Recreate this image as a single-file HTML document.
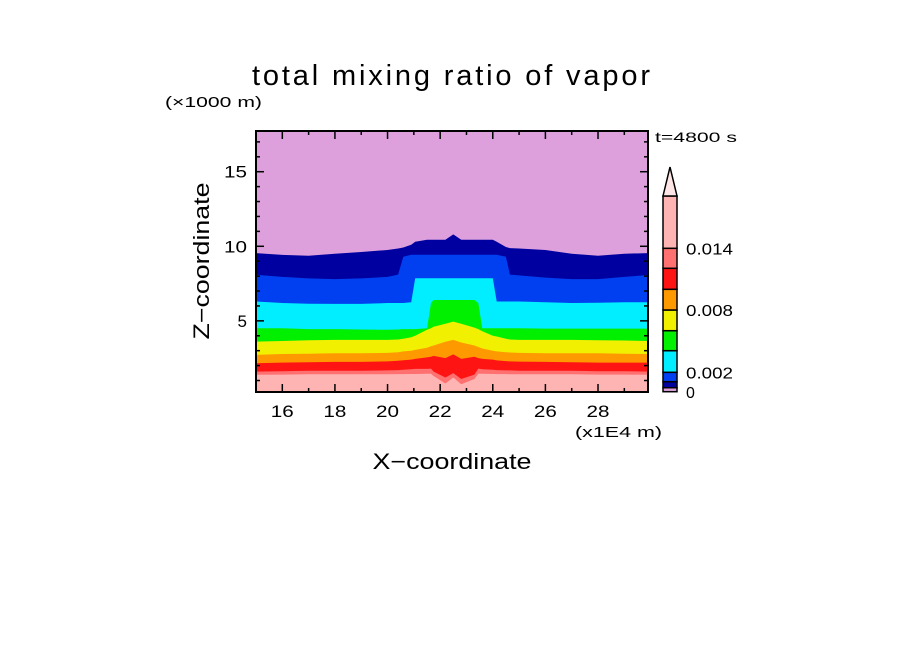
<!DOCTYPE html>
<html><head><meta charset="utf-8"><style>
html,body{margin:0;padding:0;background:#fff;}
svg{display:block;font-family:"Liberation Sans","DejaVu Sans",sans-serif;}
</style></head><body>
<svg id="chart" width="904" height="654" viewBox="0 0 904 654">
<text x="451" y="85" font-size="29" text-anchor="middle" textLength="398">total mixing ratio of vapor</text>
<text x="165" y="107" font-size="15" textLength="97" lengthAdjust="spacingAndGlyphs">(×1000 m)</text>
<text x="655" y="142" font-size="14" textLength="82" lengthAdjust="spacingAndGlyphs">t=4800 s</text>
<text x="0" y="0" font-size="22" text-anchor="middle" textLength="157" lengthAdjust="spacingAndGlyphs" transform="translate(209,261) rotate(-90)">Z−coordinate</text>
<text x="452" y="469" font-size="22" text-anchor="middle" textLength="159" lengthAdjust="spacingAndGlyphs">X−coordinate</text>
<text x="575" y="437" font-size="15" textLength="87" lengthAdjust="spacingAndGlyphs">(x1E4 m)</text>
<g id="plot"></g>
<g id="cbar"></g>
</svg>
<script>
const xs=[15,16,17,18,19,20,20.4,20.6,20.9,21.05,21.5,21.65,21.75,22.2,22.5,22.8,23.3,23.45,23.6,24.0,24.15,24.5,24.65,25,26,27,28,29,30];
const b1=[9.54,9.42,9.36,9.5,9.62,9.75,9.85,9.92,10.1,10.3,10.44,10.44,10.44,10.44,10.8,10.44,10.44,10.44,10.44,10.44,10.3,9.95,9.88,9.85,9.75,9.5,9.36,9.5,9.54];
const b2=[8.09,7.95,7.85,7.8,7.85,7.95,8.1,9.3,9.43,9.43,9.43,9.43,9.43,9.43,9.43,9.43,9.43,9.43,9.43,9.43,9.43,9.3,8.1,8.05,7.9,7.8,7.8,7.95,8.09];
const b3=[6.30,6.2,6.15,6.14,6.14,6.2,6.2,6.2,6.25,7.86,7.86,7.86,7.86,7.86,7.86,7.86,7.86,7.86,7.86,7.86,6.3,6.3,6.3,6.3,6.25,6.2,6.22,6.25,6.25];
const b4=[4.51,4.5,4.45,4.45,4.42,4.4,4.42,4.45,4.45,4.45,4.5,6.2,6.4,6.4,6.4,6.4,6.4,6.2,4.5,4.5,4.5,4.5,4.5,4.5,4.48,4.48,4.48,4.48,4.48];
const b5=[3.61,3.65,3.7,3.72,3.72,3.72,3.75,3.8,3.9,4.0,4.4,4.5,4.6,4.8,4.95,4.8,4.55,4.45,4.3,4.0,3.95,3.8,3.75,3.72,3.72,3.72,3.7,3.68,3.65];
const b6=[2.72,2.78,2.8,2.83,2.83,2.85,2.9,2.95,3.0,3.05,3.2,3.3,3.35,3.6,3.72,3.55,3.35,3.25,3.15,3.0,2.95,2.9,2.88,2.85,2.83,2.83,2.83,2.8,2.78];
const b7=[2.16,2.2,2.22,2.25,2.25,2.28,2.32,2.36,2.4,2.45,2.55,2.6,2.65,2.5,2.75,2.45,2.6,2.5,2.45,2.4,2.35,2.3,2.28,2.27,2.25,2.22,2.2,2.2,2.2];
const b8=[1.60,1.62,1.65,1.65,1.65,1.68,1.7,1.72,1.75,1.78,1.78,1.8,1.6,1.2,1.5,1.1,1.4,1.8,1.75,1.72,1.7,1.68,1.68,1.65,1.65,1.65,1.62,1.62,1.6];
const b9=[1.38,1.4,1.42,1.42,1.42,1.42,1.43,1.43,1.44,1.44,1.45,1.45,1.3,0.8,1.2,0.75,1.1,1.45,1.45,1.44,1.43,1.43,1.42,1.42,1.42,1.42,1.4,1.4,1.38];
const xTicks=[16,18,20,22,24,26,28];
const yTicks=[5,10,15];
const cbLabels=["0.002","0.008","0.014"];

const NS="http://www.w3.org/2000/svg";
const X0=256,X1=648,Y0=131,Y1=392;
const xMin=15,xMax=29.9,yMin=0.23,yMax=17.73;
const sx=v=>X0+(v-xMin)/(xMax-xMin)*(X1-X0);
const sy=v=>Y1-(v-yMin)/(yMax-yMin)*(Y1-Y0);
const plot=document.getElementById('plot');
function mk(tag,attrs,parent){const e=document.createElementNS(NS,tag);for(const k in attrs)e.setAttribute(k,attrs[k]);parent.appendChild(e);return e;}
const cp=mk('clipPath',{id:'clip'},plot);mk('rect',{x:X0,y:Y0,width:X1-X0,height:Y1-Y0},cp);
const g=mk('g',{'clip-path':'url(#clip)'},plot);
const bg=mk('rect',{x:X0,y:Y0,width:X1-X0,height:Y1-Y0,fill:'#dda0dd'},g);


const bounds=[b1,b2,b3,b4,b5,b6,b7,b8,b9];
const cols=['#0000a0','#0040f0','#00eeff','#00f000','#f0f000','#ff9900','#ff1414','#ff7070','#ffb4b4'];
bounds.forEach((b,k)=>{
 let d='M'+sx(xs[0])+','+(Y1+5);
 xs.forEach((x,i)=>{d+=' L'+sx(x).toFixed(1)+','+sy(b[i]).toFixed(1);});
 d+=' L'+sx(xs[xs.length-1])+','+(Y1+5)+' Z';
 const p=mk('path',{d:d,fill:cols[k]},g);
 
 
});
const fr=mk('rect',{x:X0,y:Y0,width:X1-X0,height:Y1-Y0,fill:'none',stroke:'#000','stroke-width':2},plot);


for(let v=16;v<=29;v++){const major=v%2===0;const L=major?8:4;const x=sx(v);
 mk('line',{x1:x,x2:x,y1:Y1,y2:Y1-L,stroke:'#000','stroke-width':1.5},plot);
 mk('line',{x1:x,x2:x,y1:Y0,y2:Y0+L,stroke:'#000','stroke-width':1.5},plot);}
for(let v=1;v<=17;v++){const major=v%5===0;const L=major?8:4;const y=sy(v);
 mk('line',{x1:X0,x2:X0+L,y1:y,y2:y,stroke:'#000','stroke-width':1.5},plot);
 mk('line',{x1:X1,x2:X1-L,y1:y,y2:y,stroke:'#000','stroke-width':1.5},plot);}
xTicks.forEach(v=>{const t=mk('text',{x:sx(v),y:417,'font-size':17,'text-anchor':'middle',textLength:23,lengthAdjust:'spacingAndGlyphs'},plot);t.textContent=v;
 
 });
yTicks.forEach(v=>{const t=mk('text',{x:247,y:sy(v)+6,'font-size':17,'text-anchor':'end'},plot);t.textContent=v;
 if(v>=10){t.setAttribute('textLength',23);t.setAttribute('lengthAdjust','spacingAndGlyphs');}
 
 });
const cb=document.getElementById('cbar');
const CX=663,CW=14,CY0=196;
const cbPix=[391.7,387.7,381.7,372.3,350.7,330.7,310,289.3,268.3,248.3,196];
const cbCols=['#dda0dd','#0000a0','#0040f0','#00eeff','#00f000','#f0f000','#ff9900','#ff1414','#ff7070','#ffb4b4'];
cbCols.forEach((c,i)=>{const r=mk('rect',{x:CX,y:cbPix[i+1],width:CW,height:cbPix[i]-cbPix[i+1],fill:c,stroke:'#000','stroke-width':1.5},cb);
 
 });
const tri=mk('path',{d:`M${CX},${CY0} L${CX+CW/2},167 L${CX+CW},${CY0} Z`,fill:'#ffe6e6',stroke:'#000','stroke-width':1.5},cb);


const lblY=[372.3,310,248.3];
cbLabels.forEach((s,i)=>{const t=mk('text',{x:686,y:lblY[i]+6,'font-size':16,textLength:47,lengthAdjust:'spacingAndGlyphs'},cb);t.textContent=s;
 
 });
const z=mk('text',{x:686,y:398,'font-size':16},cb);z.textContent='0';


</script>
</body></html>
